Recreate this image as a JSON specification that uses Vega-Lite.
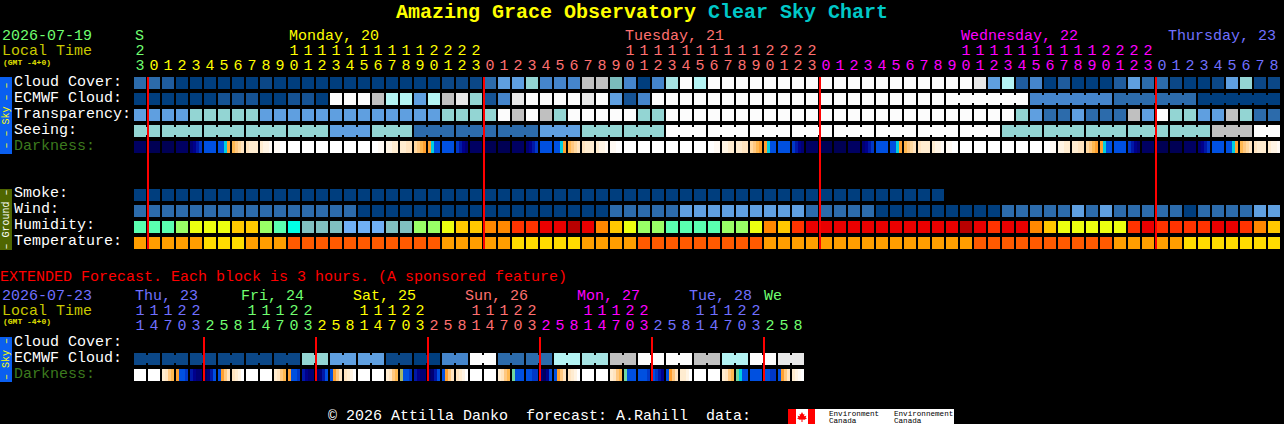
{
  "$schema": "https://vega.github.io/schema/vega-lite/v6.json",
  "width": 1284,
  "height": 424,
  "padding": 0,
  "autosize": {"type": "none"},
  "background": "#000000",
  "config": {"view": {"stroke": null}},
  "datasets": {
    "hours": [
      {"c":0,"h":23,"day":"Sun","cloud":"b2","ecmwf":"d0","transp":"b4","seeing":"t2","smoke":"d0","wind":"b2","humid":"M","temp":"T"},
      {"c":1,"h":0,"day":"Mon","cloud":"b2","ecmwf":"d0","transp":"b4","seeing":"t2","smoke":"d0","wind":"b2","humid":"M","temp":"T"},
      {"c":2,"h":1,"day":"Mon","cloud":"b1","ecmwf":"d0","transp":"b4","seeing":"t2","smoke":"d0","wind":"b2","humid":"M","temp":"T"},
      {"c":3,"h":2,"day":"Mon","cloud":"d0","ecmwf":"d0","transp":"b4","seeing":"t2","smoke":"d0","wind":"b2","humid":"L","temp":"T"},
      {"c":4,"h":3,"day":"Mon","cloud":"d0","ecmwf":"d0","transp":"t2","seeing":"t2","smoke":"d0","wind":"b2","humid":"Y","temp":"T"},
      {"c":5,"h":4,"day":"Mon","cloud":"d0","ecmwf":"d0","transp":"t2","seeing":"t2","smoke":"d0","wind":"b2","humid":"Y","temp":"F"},
      {"c":6,"h":5,"day":"Mon","cloud":"d0","ecmwf":"b0","transp":"t2","seeing":"t2","smoke":"d0","wind":"b2","humid":"Y","temp":"F"},
      {"c":7,"h":6,"day":"Mon","cloud":"d0","ecmwf":"b0","transp":"t2","seeing":"t2","smoke":"d0","wind":"b2","humid":"A","temp":"F"},
      {"c":8,"h":7,"day":"Mon","cloud":"d0","ecmwf":"b0","transp":"t2","seeing":"t2","smoke":"d0","wind":"b2","humid":"A","temp":"T"},
      {"c":9,"h":8,"day":"Mon","cloud":"d1","ecmwf":"d0","transp":"b4","seeing":"t2","smoke":"d0","wind":"b2","humid":"L","temp":"T"},
      {"c":10,"h":9,"day":"Mon","cloud":"d0","ecmwf":"d0","transp":"b4","seeing":"t2","smoke":"d0","wind":"b2","humid":"M","temp":"T"},
      {"c":11,"h":10,"day":"Mon","cloud":"d0","ecmwf":"b0","transp":"b4","seeing":"t2","smoke":"d0","wind":"b2","humid":"Q","temp":"X"},
      {"c":12,"h":11,"day":"Mon","cloud":"d0","ecmwf":"b0","transp":"b4","seeing":"t2","smoke":"d0","wind":"b2","humid":"G","temp":"X"},
      {"c":13,"h":12,"day":"Mon","cloud":"d0","ecmwf":"d0","transp":"b4","seeing":"t2","smoke":"d0","wind":"b2","humid":"G","temp":"X"},
      {"c":14,"h":13,"day":"Mon","cloud":"d0","ecmwf":"w","transp":"b4","seeing":"b4","smoke":"d0","wind":"b2","humid":"G","temp":"X"},
      {"c":15,"h":14,"day":"Mon","cloud":"d0","ecmwf":"w","transp":"b4","seeing":"b4","smoke":"d0","wind":"b2","humid":"S","temp":"X"},
      {"c":16,"h":15,"day":"Mon","cloud":"d0","ecmwf":"w","transp":"b4","seeing":"b4","smoke":"d0","wind":"d0","humid":"S","temp":"X"},
      {"c":17,"h":16,"day":"Mon","cloud":"d0","ecmwf":"g1","transp":"b4","seeing":"t2","smoke":"d0","wind":"d0","humid":"S","temp":"X"},
      {"c":18,"h":17,"day":"Mon","cloud":"d0","ecmwf":"t4","transp":"b4","seeing":"t2","smoke":"d0","wind":"d0","humid":"G","temp":"X"},
      {"c":19,"h":18,"day":"Mon","cloud":"d0","ecmwf":"t4","transp":"b4","seeing":"t2","smoke":"d0","wind":"d0","humid":"G","temp":"X"},
      {"c":20,"h":19,"day":"Mon","cloud":"d0","ecmwf":"b4","transp":"b4","seeing":"b2","smoke":"d0","wind":"d0","humid":"L","temp":"X"},
      {"c":21,"h":20,"day":"Mon","cloud":"d0","ecmwf":"t4","transp":"b4","seeing":"b2","smoke":"d0","wind":"d0","humid":"L","temp":"X"},
      {"c":22,"h":21,"day":"Mon","cloud":"d1","ecmwf":"g1","transp":"t2","seeing":"b2","smoke":"d0","wind":"d0","humid":"Y","temp":"T"},
      {"c":23,"h":22,"day":"Mon","cloud":"d1","ecmwf":"g2","transp":"t2","seeing":"b2","smoke":"d0","wind":"d0","humid":"A","temp":"T"},
      {"c":24,"h":23,"day":"Mon","cloud":"d1","ecmwf":"t2","transp":"t2","seeing":"b2","smoke":"d0","wind":"d0","humid":"A","temp":"T"},
      {"c":25,"h":0,"day":"Tue","cloud":"b2","ecmwf":"b0","transp":"t2","seeing":"b2","smoke":"d0","wind":"d0","humid":"O","temp":"T"},
      {"c":26,"h":1,"day":"Tue","cloud":"b4","ecmwf":"b3","transp":"w","seeing":"b2","smoke":"d0","wind":"d0","humid":"O","temp":"T"},
      {"c":27,"h":2,"day":"Tue","cloud":"b4","ecmwf":"g2","transp":"g1","seeing":"b2","smoke":"d0","wind":"d0","humid":"R","temp":"F"},
      {"c":28,"h":3,"day":"Tue","cloud":"t2","ecmwf":"w","transp":"w","seeing":"b2","smoke":"d0","wind":"d0","humid":"R","temp":"F"},
      {"c":29,"h":4,"day":"Tue","cloud":"b3","ecmwf":"w","transp":"g1","seeing":"b4","smoke":"d0","wind":"d0","humid":"E","temp":"F"},
      {"c":30,"h":5,"day":"Tue","cloud":"b3","ecmwf":"w","transp":"t2","seeing":"b4","smoke":"d0","wind":"d0","humid":"E","temp":"F"},
      {"c":31,"h":6,"day":"Tue","cloud":"b3","ecmwf":"w","transp":"w","seeing":"b4","smoke":"d0","wind":"d0","humid":"D","temp":"F"},
      {"c":32,"h":7,"day":"Tue","cloud":"g1","ecmwf":"g2","transp":"w","seeing":"t2","smoke":"d0","wind":"d0","humid":"E","temp":"T"},
      {"c":33,"h":8,"day":"Tue","cloud":"g1","ecmwf":"w","transp":"w","seeing":"t2","smoke":"d0","wind":"d0","humid":"O","temp":"T"},
      {"c":34,"h":9,"day":"Tue","cloud":"t1","ecmwf":"b4","transp":"w","seeing":"t2","smoke":"d0","wind":"b2","humid":"A","temp":"T"},
      {"c":35,"h":10,"day":"Tue","cloud":"b3","ecmwf":"b0","transp":"w","seeing":"t2","smoke":"d0","wind":"b2","humid":"Y","temp":"T"},
      {"c":36,"h":11,"day":"Tue","cloud":"d0","ecmwf":"b3","transp":"t2","seeing":"t2","smoke":"d0","wind":"b2","humid":"L","temp":"X"},
      {"c":37,"h":12,"day":"Tue","cloud":"b3","ecmwf":"w","transp":"t2","seeing":"t2","smoke":"d0","wind":"b2","humid":"L","temp":"X"},
      {"c":38,"h":13,"day":"Tue","cloud":"t3","ecmwf":"w","transp":"w","seeing":"w","smoke":"d0","wind":"b2","humid":"M","temp":"X"},
      {"c":39,"h":14,"day":"Tue","cloud":"w","ecmwf":"w","transp":"w","seeing":"w","smoke":"d0","wind":"b4","humid":"M","temp":"X"},
      {"c":40,"h":15,"day":"Tue","cloud":"t4","ecmwf":"w","transp":"w","seeing":"w","smoke":"d0","wind":"b4","humid":"M","temp":"X"},
      {"c":41,"h":16,"day":"Tue","cloud":"w","ecmwf":"w","transp":"w","seeing":"w","smoke":"d0","wind":"b4","humid":"M","temp":"X"},
      {"c":42,"h":17,"day":"Tue","cloud":"w","ecmwf":"w","transp":"w","seeing":"w","smoke":"d0","wind":"b4","humid":"L","temp":"X"},
      {"c":43,"h":18,"day":"Tue","cloud":"w","ecmwf":"w","transp":"w","seeing":"w","smoke":"d0","wind":"b4","humid":"L","temp":"X"},
      {"c":44,"h":19,"day":"Tue","cloud":"w","ecmwf":"w","transp":"w","seeing":"w","smoke":"d0","wind":"b4","humid":"Y","temp":"X"},
      {"c":45,"h":20,"day":"Tue","cloud":"w","ecmwf":"w","transp":"w","seeing":"w","smoke":"d0","wind":"b4","humid":"O","temp":"T"},
      {"c":46,"h":21,"day":"Tue","cloud":"w","ecmwf":"w","transp":"w","seeing":"w","smoke":"d0","wind":"b4","humid":"A","temp":"T"},
      {"c":47,"h":22,"day":"Tue","cloud":"w","ecmwf":"w","transp":"w","seeing":"w","smoke":"d0","wind":"b4","humid":"R","temp":"T"},
      {"c":48,"h":23,"day":"Tue","cloud":"w","ecmwf":"w","transp":"w","seeing":"w","smoke":"d0","wind":"b2","humid":"E","temp":"T"},
      {"c":49,"h":0,"day":"Wed","cloud":"w","ecmwf":"w","transp":"w","seeing":"w","smoke":"d0","wind":"b2","humid":"E","temp":"T"},
      {"c":50,"h":1,"day":"Wed","cloud":"w","ecmwf":"w","transp":"w","seeing":"w","smoke":"d0","wind":"b2","humid":"E","temp":"T"},
      {"c":51,"h":2,"day":"Wed","cloud":"w","ecmwf":"w","transp":"w","seeing":"w","smoke":"d0","wind":"b2","humid":"E","temp":"T"},
      {"c":52,"h":3,"day":"Wed","cloud":"w","ecmwf":"w","transp":"w","seeing":"w","smoke":"d0","wind":"b2","humid":"E","temp":"T"},
      {"c":53,"h":4,"day":"Wed","cloud":"w","ecmwf":"w","transp":"w","seeing":"w","smoke":"d0","wind":"d0","humid":"E","temp":"T"},
      {"c":54,"h":5,"day":"Wed","cloud":"w","ecmwf":"w","transp":"w","seeing":"w","smoke":"d0","wind":"d0","humid":"E","temp":"T"},
      {"c":55,"h":6,"day":"Wed","cloud":"w","ecmwf":"w","transp":"w","seeing":"w","smoke":"d0","wind":"d0","humid":"E","temp":"T"},
      {"c":56,"h":7,"day":"Wed","cloud":"w","ecmwf":"w","transp":"w","seeing":"w","smoke":"d0","wind":"d0","humid":"E","temp":"T"},
      {"c":57,"h":8,"day":"Wed","cloud":"w","ecmwf":"w","transp":"w","seeing":"w","smoke":"d0","wind":"d0","humid":"E","temp":"T"},
      {"c":58,"h":9,"day":"Wed","cloud":"w","ecmwf":"w","transp":"w","seeing":"w","wind":"d0","humid":"E","temp":"T"},
      {"c":59,"h":10,"day":"Wed","cloud":"w","ecmwf":"w","transp":"w","seeing":"w","wind":"d0","humid":"D","temp":"T"},
      {"c":60,"h":11,"day":"Wed","cloud":"g2","ecmwf":"w","transp":"w","seeing":"w","wind":"d0","humid":"E","temp":"X"},
      {"c":61,"h":12,"day":"Wed","cloud":"b4","ecmwf":"w","transp":"w","seeing":"w","wind":"d0","humid":"R","temp":"X"},
      {"c":62,"h":13,"day":"Wed","cloud":"t4","ecmwf":"w","transp":"w","seeing":"t2","wind":"b2","humid":"E","temp":"X"},
      {"c":63,"h":14,"day":"Wed","cloud":"b1","ecmwf":"w","transp":"t2","seeing":"t2","wind":"b2","humid":"E","temp":"X"},
      {"c":64,"h":15,"day":"Wed","cloud":"b3","ecmwf":"b3","transp":"b4","seeing":"t2","wind":"b2","humid":"O","temp":"X"},
      {"c":65,"h":16,"day":"Wed","cloud":"d0","ecmwf":"b3","transp":"b2","seeing":"t2","wind":"b2","humid":"A","temp":"X"},
      {"c":66,"h":17,"day":"Wed","cloud":"b1","ecmwf":"b3","transp":"b2","seeing":"t2","wind":"b2","humid":"Y","temp":"X"},
      {"c":67,"h":18,"day":"Wed","cloud":"d0","ecmwf":"b3","transp":"b4","seeing":"t2","wind":"b4","humid":"Y","temp":"X"},
      {"c":68,"h":19,"day":"Wed","cloud":"d0","ecmwf":"b3","transp":"b2","seeing":"t2","wind":"b2","humid":"Y","temp":"X"},
      {"c":69,"h":20,"day":"Wed","cloud":"d0","ecmwf":"b3","transp":"b2","seeing":"t2","wind":"b4","humid":"Y","temp":"X"},
      {"c":70,"h":21,"day":"Wed","cloud":"b1","ecmwf":"b2","transp":"b2","seeing":"t2","wind":"b2","humid":"Y","temp":"T"},
      {"c":71,"h":22,"day":"Wed","cloud":"b4","ecmwf":"b2","transp":"g1","seeing":"t2","wind":"b2","humid":"R","temp":"T"},
      {"c":72,"h":23,"day":"Wed","cloud":"b2","ecmwf":"b2","transp":"b4","seeing":"t2","wind":"b2","humid":"E","temp":"T"},
      {"c":73,"h":0,"day":"Thu","cloud":"b2","ecmwf":"b2","transp":"w","seeing":"t2","wind":"b2","humid":"R","temp":"T"},
      {"c":74,"h":1,"day":"Thu","cloud":"d1","ecmwf":"b2","transp":"t2","seeing":"t2","wind":"b2","humid":"R","temp":"T"},
      {"c":75,"h":2,"day":"Thu","cloud":"d0","ecmwf":"b2","transp":"t2","seeing":"t2","wind":"d0","humid":"R","temp":"F"},
      {"c":76,"h":3,"day":"Thu","cloud":"d0","ecmwf":"d0","transp":"b4","seeing":"t2","wind":"b2","humid":"R","temp":"F"},
      {"c":77,"h":4,"day":"Thu","cloud":"d1","ecmwf":"d0","transp":"b4","seeing":"g1","wind":"b2","humid":"E","temp":"F"},
      {"c":78,"h":5,"day":"Thu","cloud":"b4","ecmwf":"d0","transp":"g1","seeing":"g1","wind":"b2","humid":"E","temp":"F"},
      {"c":79,"h":6,"day":"Thu","cloud":"t2","ecmwf":"d0","transp":"t2","seeing":"g1","wind":"b2","humid":"R","temp":"F"},
      {"c":80,"h":7,"day":"Thu","cloud":"d1","ecmwf":"d0","transp":"b2","seeing":"w","wind":"b4","humid":"O","temp":"F"},
      {"c":81,"h":8,"day":"Thu","cloud":"d1","ecmwf":"d0","transp":"b2","seeing":"w","wind":"b4","humid":"A","temp":"F"}
    ],
    "extended": [
      {"c":0,"h":11,"day":"Thu","ecmwf":"d1"},{"c":1,"h":14,"day":"Thu","ecmwf":"d1"},{"c":2,"h":17,"day":"Thu","ecmwf":"d1"},{"c":3,"h":20,"day":"Thu","ecmwf":"d1"},
      {"c":4,"h":23,"day":"Thu","ecmwf":"d1"},{"c":5,"h":2,"day":"Fri","ecmwf":"d1"},{"c":6,"h":5,"day":"Fri","ecmwf":"d1"},{"c":7,"h":8,"day":"Fri","ecmwf":"d1"},
      {"c":8,"h":11,"day":"Fri","ecmwf":"d1"},{"c":9,"h":14,"day":"Fri","ecmwf":"d1"},{"c":10,"h":17,"day":"Fri","ecmwf":"d1"},{"c":11,"h":20,"day":"Fri","ecmwf":"d1"},
      {"c":12,"h":23,"day":"Fri","ecmwf":"t2"},{"c":13,"h":2,"day":"Sat","ecmwf":"t2"},{"c":14,"h":5,"day":"Sat","ecmwf":"b4"},{"c":15,"h":8,"day":"Sat","ecmwf":"b4"},
      {"c":16,"h":11,"day":"Sat","ecmwf":"b4"},{"c":17,"h":14,"day":"Sat","ecmwf":"b4"},{"c":18,"h":17,"day":"Sat","ecmwf":"d1"},{"c":19,"h":20,"day":"Sat","ecmwf":"d1"},
      {"c":20,"h":23,"day":"Sat","ecmwf":"d0"},{"c":21,"h":2,"day":"Sun","ecmwf":"d0"},{"c":22,"h":5,"day":"Sun","ecmwf":"b3"},{"c":23,"h":8,"day":"Sun","ecmwf":"b3"},
      {"c":24,"h":11,"day":"Sun","ecmwf":"w"},{"c":25,"h":14,"day":"Sun","ecmwf":"w"},{"c":26,"h":17,"day":"Sun","ecmwf":"b2"},{"c":27,"h":20,"day":"Sun","ecmwf":"b2"},
      {"c":28,"h":23,"day":"Sun","ecmwf":"b2"},{"c":29,"h":2,"day":"Mon","ecmwf":"b2"},{"c":30,"h":5,"day":"Mon","ecmwf":"t4"},{"c":31,"h":8,"day":"Mon","ecmwf":"t4"},
      {"c":32,"h":11,"day":"Mon","ecmwf":"t3"},{"c":33,"h":14,"day":"Mon","ecmwf":"t3"},{"c":34,"h":17,"day":"Mon","ecmwf":"g1"},{"c":35,"h":20,"day":"Mon","ecmwf":"g1"},
      {"c":36,"h":23,"day":"Mon","ecmwf":"w"},{"c":37,"h":2,"day":"Tue","ecmwf":"w"},{"c":38,"h":5,"day":"Tue","ecmwf":"w"},{"c":39,"h":8,"day":"Tue","ecmwf":"w"},
      {"c":40,"h":11,"day":"Tue","ecmwf":"g1"},{"c":41,"h":14,"day":"Tue","ecmwf":"g1"},{"c":42,"h":17,"day":"Tue","ecmwf":"t4"},{"c":43,"h":20,"day":"Tue","ecmwf":"t4"},
      {"c":44,"h":23,"day":"Tue","ecmwf":"w"},{"c":45,"h":2,"day":"Wed","ecmwf":"w"},{"c":46,"h":5,"day":"Wed","ecmwf":"g2"},{"c":47,"h":8,"day":"Wed","ecmwf":"g2"}
    ],
    "darkness": [
      {"c":0,"r":4,"a":"N2","b":"N2","d":"N2","e":"N2"},{"c":1,"r":4,"a":"N1","b":"N1","d":"N1","e":"N1"},{"c":2,"r":4,"a":"N1","b":"N1","d":"N1","e":"N1"},{"c":3,"r":4,"a":"N2","b":"N2","d":"N2","e":"N2"},
      {"c":4,"r":4,"a":"N3","b":"N4","d":"N5","e":"N6"},{"c":5,"r":4,"a":"B","b":"B","d":"B","e":"B"},{"c":6,"r":4,"a":"B","b":"B","d":"C","e":"S0"},{"c":7,"r":4,"a":"S1","b":"S2","d":"S3","e":"S4"},
      {"c":8,"r":4,"a":"S4","b":"S5","d":"S5","e":"S5"},{"c":9,"r":4,"a":"S5","b":"S6","d":"S6","e":"S7"},{"c":10,"r":4,"a":"S7","b":"S7","d":"W","e":"W"},{"c":11,"r":4,"a":"W","b":"W","d":"W","e":"W"},
      {"c":12,"r":4,"a":"W","b":"W","d":"W","e":"W"},{"c":13,"r":4,"a":"W","b":"W","d":"W","e":"W"},{"c":14,"r":4,"a":"W","b":"W","d":"W","e":"W"},{"c":15,"r":4,"a":"W","b":"W","d":"W","e":"W"},
      {"c":16,"r":4,"a":"W","b":"W","d":"W","e":"W"},{"c":17,"r":4,"a":"W","b":"W","d":"S7","e":"S7"},{"c":18,"r":4,"a":"S6","b":"S6","d":"S5","e":"S5"},{"c":19,"r":4,"a":"S5","b":"S5","d":"S4","e":"S4"},
      {"c":20,"r":4,"a":"S3","b":"S2","d":"S1","e":"S0"},{"c":21,"r":4,"a":"S0","b":"C","d":"B","e":"B"},{"c":22,"r":4,"a":"B","b":"B","d":"B","e":"B"},{"c":23,"r":4,"a":"N6","b":"N5","d":"N4","e":"N3"},
      {"c":24,"r":4,"a":"N2","b":"N2","d":"N2","e":"N2"},{"c":25,"r":4,"a":"N1","b":"N1","d":"N1","e":"N1"},{"c":26,"r":4,"a":"N1","b":"N1","d":"N1","e":"N1"},{"c":27,"r":4,"a":"N2","b":"N2","d":"N2","e":"N2"},
      {"c":28,"r":4,"a":"N3","b":"N4","d":"N5","e":"N6"},{"c":29,"r":4,"a":"B","b":"B","d":"B","e":"B"},{"c":30,"r":4,"a":"B","b":"B","d":"C","e":"S0"},{"c":31,"r":4,"a":"S1","b":"S2","d":"S3","e":"S4"},
      {"c":32,"r":4,"a":"S4","b":"S5","d":"S5","e":"S5"},{"c":33,"r":4,"a":"S5","b":"S6","d":"S6","e":"S7"},{"c":34,"r":4,"a":"S7","b":"S7","d":"W","e":"W"},{"c":35,"r":4,"a":"W","b":"W","d":"W","e":"W"},
      {"c":36,"r":4,"a":"W","b":"W","d":"W","e":"W"},{"c":37,"r":4,"a":"W","b":"W","d":"W","e":"W"},{"c":38,"r":4,"a":"W","b":"W","d":"W","e":"W"},{"c":39,"r":4,"a":"W","b":"W","d":"W","e":"W"},
      {"c":40,"r":4,"a":"W","b":"W","d":"W","e":"W"},{"c":41,"r":4,"a":"W","b":"W","d":"S7","e":"S7"},{"c":42,"r":4,"a":"S6","b":"S6","d":"S5","e":"S5"},{"c":43,"r":4,"a":"S5","b":"S5","d":"S4","e":"S4"},
      {"c":44,"r":4,"a":"S3","b":"S2","d":"S1","e":"S0"},{"c":45,"r":4,"a":"S0","b":"C","d":"B","e":"B"},{"c":46,"r":4,"a":"B","b":"B","d":"B","e":"B"},{"c":47,"r":4,"a":"N6","b":"N5","d":"N4","e":"N3"},
      {"c":48,"r":4,"a":"N2","b":"N2","d":"N2","e":"N2"},{"c":49,"r":4,"a":"N1","b":"N1","d":"N1","e":"N1"},{"c":50,"r":4,"a":"N1","b":"N1","d":"N1","e":"N1"},{"c":51,"r":4,"a":"N2","b":"N2","d":"N2","e":"N2"},
      {"c":52,"r":4,"a":"N3","b":"N4","d":"N5","e":"N6"},{"c":53,"r":4,"a":"B","b":"B","d":"B","e":"B"},{"c":54,"r":4,"a":"B","b":"B","d":"C","e":"S0"},{"c":55,"r":4,"a":"S1","b":"S2","d":"S3","e":"S4"},
      {"c":56,"r":4,"a":"S4","b":"S5","d":"S5","e":"S5"},{"c":57,"r":4,"a":"S5","b":"S6","d":"S6","e":"S7"},{"c":58,"r":4,"a":"S7","b":"S7","d":"W","e":"W"},{"c":59,"r":4,"a":"W","b":"W","d":"W","e":"W"},
      {"c":60,"r":4,"a":"W","b":"W","d":"W","e":"W"},{"c":61,"r":4,"a":"W","b":"W","d":"W","e":"W"},{"c":62,"r":4,"a":"W","b":"W","d":"W","e":"W"},{"c":63,"r":4,"a":"W","b":"W","d":"W","e":"W"},
      {"c":64,"r":4,"a":"W","b":"W","d":"W","e":"W"},{"c":65,"r":4,"a":"W","b":"W","d":"S7","e":"S7"},{"c":66,"r":4,"a":"S6","b":"S6","d":"S5","e":"S5"},{"c":67,"r":4,"a":"S5","b":"S5","d":"S4","e":"S4"},
      {"c":68,"r":4,"a":"S3","b":"S2","d":"S1","e":"S0"},{"c":69,"r":4,"a":"S0","b":"C","d":"B","e":"B"},{"c":70,"r":4,"a":"B","b":"B","d":"B","e":"B"},{"c":71,"r":4,"a":"N6","b":"N5","d":"N4","e":"N3"},
      {"c":72,"r":4,"a":"N2","b":"N2","d":"N2","e":"N2"},{"c":73,"r":4,"a":"N1","b":"N1","d":"N1","e":"N1"},{"c":74,"r":4,"a":"N1","b":"N1","d":"N1","e":"N1"},{"c":75,"r":4,"a":"N2","b":"N2","d":"N2","e":"N2"},
      {"c":76,"r":4,"a":"N3","b":"N4","d":"N5","e":"N6"},{"c":77,"r":4,"a":"B","b":"B","d":"B","e":"B"},{"c":78,"r":4,"a":"B","b":"B","d":"C","e":"S0"},{"c":79,"r":4,"a":"S1","b":"S2","d":"S3","e":"S4"},
      {"c":80,"r":4,"a":"S4","b":"S5","d":"S5","e":"S5"},{"c":81,"r":4,"a":"S5","b":"S6","d":"S6","e":"S7"},
      {"c":0,"r":18.25,"a":"W","b":"W","d":"W","e":"W"},{"c":1,"r":18.25,"a":"W","b":"W","d":"W","e":"W"},{"c":2,"r":18.25,"a":"S5","b":"S4","d":"S2","e":"S1"},{"c":3,"r":18.25,"a":"S0","b":"B","d":"B","e":"N6"},
      {"c":4,"r":18.25,"a":"N5","b":"N4","d":"N3","e":"N3"},{"c":5,"r":18.25,"a":"N2","b":"N3","d":"N5","e":"B"},{"c":6,"r":18.25,"a":"B","b":"S0","d":"S2","e":"S4"},{"c":7,"r":18.25,"a":"S4","b":"S5","d":"S6","e":"W"},
      {"c":8,"r":18.25,"a":"W","b":"W","d":"W","e":"W"},{"c":9,"r":18.25,"a":"W","b":"W","d":"W","e":"W"},{"c":10,"r":18.25,"a":"S5","b":"S4","d":"S2","e":"S1"},{"c":11,"r":18.25,"a":"S0","b":"B","d":"B","e":"N6"},
      {"c":12,"r":18.25,"a":"N5","b":"N4","d":"N3","e":"N3"},{"c":13,"r":18.25,"a":"N2","b":"N3","d":"N5","e":"B"},{"c":14,"r":18.25,"a":"B","b":"S0","d":"S2","e":"S4"},{"c":15,"r":18.25,"a":"S4","b":"S5","d":"S6","e":"W"},
      {"c":16,"r":18.25,"a":"W","b":"W","d":"W","e":"W"},{"c":17,"r":18.25,"a":"W","b":"W","d":"W","e":"W"},{"c":18,"r":18.25,"a":"S5","b":"S4","d":"S2","e":"S1"},{"c":19,"r":18.25,"a":"V","b":"B","d":"B","e":"N6"},
      {"c":20,"r":18.25,"a":"N5","b":"N4","d":"N3","e":"N3"},{"c":21,"r":18.25,"a":"N2","b":"N3","d":"N5","e":"B"},{"c":22,"r":18.25,"a":"B","b":"S0","d":"S2","e":"S4"},{"c":23,"r":18.25,"a":"S4","b":"S5","d":"S6","e":"W"},
      {"c":24,"r":18.25,"a":"W","b":"W","d":"W","e":"W"},{"c":25,"r":18.25,"a":"W","b":"W","d":"W","e":"W"},{"c":26,"r":18.25,"a":"S5","b":"S4","d":"S2","e":"S1"},{"c":27,"r":18.25,"a":"U","b":"B","d":"B","e":"B"},
      {"c":28,"r":18.25,"a":"B","b":"B","d":"N6","e":"N6"},{"c":29,"r":18.25,"a":"N3","b":"N2","d":"N4","e":"B"},{"c":30,"r":18.25,"a":"B","b":"S0","d":"S2","e":"S4"},{"c":31,"r":18.25,"a":"S4","b":"S5","d":"S6","e":"W"},
      {"c":32,"r":18.25,"a":"W","b":"W","d":"W","e":"W"},{"c":33,"r":18.25,"a":"W","b":"W","d":"W","e":"W"},{"c":34,"r":18.25,"a":"S5","b":"S4","d":"S2","e":"S1"},{"c":35,"r":18.25,"a":"U","b":"B","d":"B","e":"B"},
      {"c":36,"r":18.25,"a":"B","b":"B","d":"B","e":"N6"},{"c":37,"r":18.25,"a":"B","b":"N6","d":"N5","e":"N4"},{"c":38,"r":18.25,"a":"B","b":"S0","d":"S2","e":"S4"},{"c":39,"r":18.25,"a":"S5","b":"S5","d":"S6","e":"W"},
      {"c":40,"r":18.25,"a":"W","b":"W","d":"W","e":"W"},{"c":41,"r":18.25,"a":"W","b":"W","d":"W","e":"W"},{"c":42,"r":18.25,"a":"S5","b":"S4","d":"S2","e":"S1"},{"c":43,"r":18.25,"a":"U","b":"C","d":"B","e":"B"},
      {"c":44,"r":18.25,"a":"B","b":"B","d":"B","e":"B"},{"c":45,"r":18.25,"a":"B","b":"B","d":"N6","e":"N6"},{"c":46,"r":18.25,"a":"B","b":"S0","d":"S2","e":"S4"},{"c":47,"r":18.25,"a":"S5","b":"S6","d":"S7","e":"W"}
    ],
    "necks": [
      {"c":0,"e":1,"r":3,"k":"t2"},{"c":2,"e":4,"r":3,"k":"t2"},{"c":5,"e":7,"r":3,"k":"t2"},{"c":8,"e":10,"r":3,"k":"t2"},{"c":11,"e":13,"r":3,"k":"t2"},
      {"c":14,"e":16,"r":3,"k":"b4"},{"c":17,"e":19,"r":3,"k":"t2"},{"c":20,"e":22,"r":3,"k":"b2"},{"c":23,"e":25,"r":3,"k":"b2"},{"c":26,"e":28,"r":3,"k":"b2"},
      {"c":29,"e":31,"r":3,"k":"b4"},{"c":32,"e":34,"r":3,"k":"t2"},{"c":35,"e":37,"r":3,"k":"t2"},{"c":38,"e":40,"r":3,"k":"w"},{"c":41,"e":43,"r":3,"k":"w"},
      {"c":44,"e":46,"r":3,"k":"w"},{"c":47,"e":49,"r":3,"k":"w"},{"c":50,"e":52,"r":3,"k":"w"},{"c":53,"e":55,"r":3,"k":"w"},{"c":56,"e":58,"r":3,"k":"w"},
      {"c":59,"e":61,"r":3,"k":"w"},{"c":62,"e":64,"r":3,"k":"t2"},{"c":65,"e":67,"r":3,"k":"t2"},{"c":68,"e":70,"r":3,"k":"t2"},{"c":71,"e":73,"r":3,"k":"t2"},
      {"c":74,"e":76,"r":3,"k":"t2"},{"c":77,"e":79,"r":3,"k":"g1"},{"c":80,"e":81,"r":3,"k":"w"},
      {"c":58,"e":63,"r":1,"k":"w"},{"c":64,"e":69,"r":1,"k":"b3"},{"c":70,"e":75,"r":1,"k":"b2"},{"c":76,"e":81,"r":1,"k":"d0"},
      {"c":0,"e":1,"r":17.25,"k":"d1"},{"c":2,"e":3,"r":17.25,"k":"d1"},{"c":4,"e":5,"r":17.25,"k":"d1"},{"c":6,"e":7,"r":17.25,"k":"d1"},{"c":8,"e":9,"r":17.25,"k":"d1"},{"c":10,"e":11,"r":17.25,"k":"d1"},
      {"c":12,"e":13,"r":17.25,"k":"t2"},{"c":14,"e":15,"r":17.25,"k":"b4"},{"c":16,"e":17,"r":17.25,"k":"b4"},{"c":18,"e":19,"r":17.25,"k":"d1"},{"c":20,"e":21,"r":17.25,"k":"d0"},{"c":22,"e":23,"r":17.25,"k":"b3"},
      {"c":24,"e":25,"r":17.25,"k":"w"},{"c":26,"e":27,"r":17.25,"k":"b2"},{"c":28,"e":29,"r":17.25,"k":"b2"},{"c":30,"e":31,"r":17.25,"k":"t4"},{"c":32,"e":33,"r":17.25,"k":"t3"},{"c":34,"e":35,"r":17.25,"k":"g1"},
      {"c":36,"e":37,"r":17.25,"k":"w"},{"c":38,"e":39,"r":17.25,"k":"w"},{"c":40,"e":41,"r":17.25,"k":"g1"},{"c":42,"e":43,"r":17.25,"k":"t4"},{"c":44,"e":45,"r":17.25,"k":"w"},{"c":46,"e":47,"r":17.25,"k":"g2"}
    ],
    "midnights": [
      {"c":1,"r":0,"r2":10.75},{"c":25,"r":0,"r2":10.75},{"c":49,"r":0,"r2":10.75},{"c":73,"r":0,"r2":10.75},
      {"c":5,"r":16.25,"r2":19},{"c":13,"r":16.25,"r2":19},{"c":21,"r":16.25,"r2":19},{"c":29,"r":16.25,"r2":19},{"c":37,"r":16.25,"r2":19},{"c":45,"r":16.25,"r2":19}
    ],
    "panels": [
      {"c":-9.5714,"c2":-8.7143,"r":0,"r2":4.8125,"k":"skybar"},
      {"c":-9.5714,"c2":-8.7143,"r":7,"r2":10.8125,"k":"groundbar"},
      {"c":-9.5714,"c2":-8.7143,"r":16.25,"r2":19.0625,"k":"skybar"},
      {"c":46.7143,"c2":58.5714,"r":20.75,"r2":21.6875,"k":"logoWhite"},
      {"c":46.7143,"c2":47.2857,"r":20.75,"r2":21.6875,"k":"logoRed"},
      {"c":48.1429,"c2":48.6429,"r":20.75,"r2":21.6875,"k":"logoRed"}
    ],
    "panelText": [
      {"t":"– – Sky – –","c":-9.1429,"r":2.4063,"k":"skyText"},
      {"t":"– Ground –","c":-9.1429,"r":8.9063,"k":"label"},
      {"t":"– Sky –","c":-9.1429,"r":17.625,"k":"skyText"}
    ],
    "labels": [
      {"t":"2026-07-19","c":-9.4286,"r":-2.3125,"k":"Sun"},
      {"t":"Local Time","c":-9.4286,"r":-1.375,"k":"local"},
      {"t":"S","c":0.0714,"r":-2.3125,"k":"Sun"},
      {"t":"Monday, 20","c":11.0714,"r":-2.3125,"k":"Mon"},
      {"t":"Tuesday, 21","c":35.0714,"r":-2.3125,"k":"Tue"},
      {"t":"Wednesday, 22","c":59.0714,"r":-2.3125,"k":"Wed"},
      {"t":"Thursday, 23","c":73.8571,"r":-2.3125,"k":"Thu"},
      {"t":"Cloud Cover:","c":-8.5714,"r":0.5625,"k":"label"},
      {"t":"ECMWF Cloud:","c":-8.5714,"r":1.5625,"k":"label"},
      {"t":"Transparency:","c":-8.5714,"r":2.5625,"k":"label"},
      {"t":"Seeing:","c":-8.5714,"r":3.5625,"k":"label"},
      {"t":"Darkness:","c":-8.5714,"r":4.5625,"k":"darkLabel"},
      {"t":"Smoke:","c":-8.5714,"r":7.5,"k":"label"},
      {"t":"Wind:","c":-8.5714,"r":8.5,"k":"label"},
      {"t":"Humidity:","c":-8.5714,"r":9.5,"k":"label"},
      {"t":"Temperature:","c":-8.5714,"r":10.5,"k":"label"},
      {"t":"EXTENDED Forecast. Each block is 3 hours. (A sponsored feature)","c":-9.5714,"r":12.75,"k":"warn"},
      {"t":"2026-07-23","c":-9.4286,"r":13.9375,"k":"Thu2"},
      {"t":"Local Time","c":-9.4286,"r":14.875,"k":"local"},
      {"t":"Thu, 23","c":0.0714,"r":13.9375,"k":"Thu2"},
      {"t":"Fri, 24","c":7.6429,"r":13.9375,"k":"Fri2"},
      {"t":"Sat, 25","c":15.6429,"r":13.9375,"k":"Sat2"},
      {"t":"Sun, 26","c":23.6429,"r":13.9375,"k":"Sun2"},
      {"t":"Mon, 27","c":31.6429,"r":13.9375,"k":"Mon2"},
      {"t":"Tue, 28","c":39.6429,"r":13.9375,"k":"Tue2"},
      {"t":"We","c":45,"r":13.9375,"k":"Wed2"},
      {"t":"Cloud Cover:","c":-8.5714,"r":16.8125,"k":"label"},
      {"t":"ECMWF Cloud:","c":-8.5714,"r":17.8125,"k":"label"},
      {"t":"Darkness:","c":-8.5714,"r":18.8125,"k":"darkLabel"},
      {"t":"© 2026 Attilla Danko","c":13.8571,"r":21.4375,"k":"label"},
      {"t":"forecast: A.Rahill","c":28,"r":21.4375,"k":"label"},
      {"t":"data:","c":40.8571,"r":21.4375,"k":"label"}
    ],
    "smallLabels": [
      {"t":"(GMT -4+0)","c":-9.3571,"r":-0.75,"k":"local2"},
      {"t":"(GMT -4+0)","c":-9.3571,"r":15.4375,"k":"local2"}
    ],
    "titles": [
      {"t":"Amazing Grace Observatory","c":18.7143,"r":-3.6875,"k":"Mon"},
      {"t":"Clear Sky Chart","c":41,"r":-3.6875,"k":"titleAccent"}
    ],
    "logoText": [
      {"t":"Environment","c":49.6429,"r":21.1875,"k":"logoInk"},
      {"t":"Canada","c":49.6429,"r":21.625,"k":"logoInk"},
      {"t":"Environnement","c":54.2857,"r":21.1875,"k":"logoInk"},
      {"t":"Canada","c":54.2857,"r":21.625,"k":"logoInk"}
    ],
    "leaf": [{"c":47.7143,"r":21.25,"k":"logoRed"}]
  },
  "encoding": {
    "x": {"field": "c", "type": "quantitative", "axis": null, "scale": {"domain": [-9.571428571428571, 82.14285714285714], "nice": false, "zero": false}},
    "y": {"field": "r", "type": "quantitative", "axis": null, "scale": {"domain": [21.6875, -4.8125], "nice": false, "zero": false}},
    "color": {
      "field": "k",
      "type": "nominal",
      "legend": null,
      "scale": {
        "domain": ["d0","d1","b0","b1","b2","b3","b4","t1","t2","t3","t4","g1","g2","w","Q","M","L","Y","A","O","R","E","D","G","S","T","F","X","N1","N2","N3","N4","N5","N6","B","C","U","V","S0","S1","S2","S3","S4","S5","S6","S7","W","Sun","Mon","Tue","Wed","Thu","Thu2","Fri2","Sat2","Sun2","Mon2","Tue2","Wed2","local","local2","label","darkLabel","warn","titleAccent","skybar","groundbar","skyText","logoWhite","logoRed","logoInk"],
        "range": ["#003e7e","#0b4787","#155293","#1f5c9e","#2c6bab","#4585cb","#5f9fe0","#7bbcbc","#93d5d3","#a6e4e4","#b4f4f4","#c0c0c0","#e8e8e8","#fcfcfc","#00ffe6","#5affb0","#99ff66","#ecff10","#ffc800","#ff8800","#ff3300","#ea0000","#b80000","#80c0c0","#70b0f5","#ff9e00","#ffdc00","#ff5a00","#000054","#000062","#000074","#00008c","#0018a8","#0038c8","#0050e0","#00d0e0","#70d8a0","#a8b868","#ffa030","#ffb850","#ffc880","#ffd8a0","#ffe4c0","#ffecd0","#fff4e4","#fffaf4","#ffffff","#70ff70","#ffff00","#ff7070","#ff00ff","#7070ff","#7070ff","#70ff70","#ffff00","#ff7070","#ff00ff","#7070ff","#70ff70","#c8c800","#e0e000","#ffffff","#3c7a1e","#ff0000","#00c8c8","#0a5ff0","#4f6600","#ffff00","#ffffff","#ff0000","#000000"]
      }
    }
  },
  "layer": [
    {
      "data": {"name": "panels"},
      "mark": {"type": "rect"},
      "encoding": {"x2": {"field": "c2"}, "y2": {"field": "r2"}}
    },
    {
      "data": {"name": "necks"},
      "transform": [
        {"calculate": "datum.e + 12 / 14", "as": "c2"},
        {"calculate": "datum.r + 10 / 16", "as": "r2"},
        {"calculate": "datum.r + 2 / 16", "as": "r"}
      ],
      "mark": {"type": "rect"},
      "encoding": {"x2": {"field": "c2"}, "y2": {"field": "r2"}}
    },
    {
      "data": {"name": "hours"},
      "transform": [
        {"fold": ["cloud", "ecmwf", "transp", "seeing", "smoke", "wind", "humid", "temp"], "as": ["row", "k"]},
        {"filter": "datum.k"},
        {"calculate": "indexof(['cloud','ecmwf','transp','seeing','-','-','-','smoke','wind','humid','temp'], datum.row)", "as": "r"},
        {"calculate": "datum.c + 12 / 14", "as": "c2"},
        {"calculate": "datum.r + 12 / 16", "as": "r2"}
      ],
      "mark": {"type": "rect"},
      "encoding": {"x2": {"field": "c2"}, "y2": {"field": "r2"}}
    },
    {
      "data": {"name": "extended"},
      "transform": [
        {"calculate": "datum.ecmwf", "as": "k"},
        {"calculate": "17.25", "as": "r"},
        {"calculate": "datum.c + 12 / 14", "as": "c2"},
        {"calculate": "datum.r + 12 / 16", "as": "r2"}
      ],
      "mark": {"type": "rect"},
      "encoding": {"x2": {"field": "c2"}, "y2": {"field": "r2"}}
    },
    {
      "data": {"name": "darkness"},
      "transform": [
        {"fold": ["a", "b", "d", "e"], "as": ["slot", "k"]},
        {"calculate": "indexof(['a','b','d','e'], datum.slot)", "as": "s"},
        {"calculate": "datum.c + (datum.s + 1) * 3 / 14", "as": "c2"},
        {"calculate": "datum.c + datum.s * 3 / 14", "as": "c"},
        {"calculate": "datum.r + 12 / 16", "as": "r2"}
      ],
      "mark": {"type": "rect"},
      "encoding": {"x2": {"field": "c2"}, "y2": {"field": "r2"}}
    },
    {
      "data": {"name": "midnights"},
      "mark": {"type": "rule", "strokeWidth": 2},
      "encoding": {"y2": {"field": "r2"}, "color": {"value": "#ff0000"}}
    },
    {
      "data": {"name": "hours"},
      "transform": [
        {"calculate": "datum.day", "as": "k"},
        {"calculate": "-0.4375", "as": "r"},
        {"calculate": "'' + datum.h % 10", "as": "t"}
      ],
      "mark": {"type": "text", "font": "Liberation Mono", "fontSize": 15, "align": "center", "baseline": "alphabetic", "dx": 6},
      "encoding": {"text": {"field": "t"}}
    },
    {
      "data": {"name": "hours"},
      "transform": [
        {"filter": "datum.h >= 10"},
        {"calculate": "datum.day", "as": "k"},
        {"calculate": "-1.375", "as": "r"},
        {"calculate": "'' + floor(datum.h / 10)", "as": "t"}
      ],
      "mark": {"type": "text", "font": "Liberation Mono", "fontSize": 15, "align": "center", "baseline": "alphabetic", "dx": 6},
      "encoding": {"text": {"field": "t"}}
    },
    {
      "data": {"name": "extended"},
      "transform": [
        {"calculate": "datum.day + '2'", "as": "k"},
        {"calculate": "15.8125", "as": "r"},
        {"calculate": "'' + datum.h % 10", "as": "t"}
      ],
      "mark": {"type": "text", "font": "Liberation Mono", "fontSize": 15, "align": "center", "baseline": "alphabetic", "dx": 6},
      "encoding": {"text": {"field": "t"}}
    },
    {
      "data": {"name": "extended"},
      "transform": [
        {"filter": "datum.h >= 10"},
        {"calculate": "datum.day + '2'", "as": "k"},
        {"calculate": "14.875", "as": "r"},
        {"calculate": "'' + floor(datum.h / 10)", "as": "t"}
      ],
      "mark": {"type": "text", "font": "Liberation Mono", "fontSize": 15, "align": "center", "baseline": "alphabetic", "dx": 6},
      "encoding": {"text": {"field": "t"}}
    },
    {
      "data": {"name": "labels"},
      "mark": {"type": "text", "font": "Liberation Mono", "fontSize": 15, "align": "left", "baseline": "alphabetic"},
      "encoding": {"text": {"field": "t"}}
    },
    {
      "data": {"name": "smallLabels"},
      "mark": {"type": "text", "font": "Liberation Mono", "fontSize": 8, "fontWeight": "bold", "align": "left", "baseline": "alphabetic"},
      "encoding": {"text": {"field": "t"}}
    },
    {
      "data": {"name": "titles"},
      "mark": {"type": "text", "font": "Liberation Mono", "fontSize": 20, "fontWeight": "bold", "align": "left", "baseline": "alphabetic"},
      "encoding": {"text": {"field": "t"}}
    },
    {
      "data": {"name": "panelText"},
      "mark": {"type": "text", "font": "Liberation Mono", "fontSize": 10, "angle": 270, "align": "center", "baseline": "middle"},
      "encoding": {"text": {"field": "t"}}
    },
    {
      "data": {"name": "logoText"},
      "mark": {"type": "text", "font": "Liberation Mono", "fontSize": 7.6, "align": "left", "baseline": "alphabetic"},
      "encoding": {"text": {"field": "t"}}
    },
    {
      "data": {"name": "leaf"},
      "mark": {"type": "point", "filled": true, "opacity": 1, "size": 100, "shape": "M0,-1 L0.25,-0.5 L0.5,-0.65 L0.4,-0.15 L0.9,-0.25 L0.7,0.1 L1,0.25 L0.5,0.55 L0.1,0.5 L0.1,1 L-0.1,1 L-0.1,0.5 L-0.5,0.55 L-1,0.25 L-0.7,0.1 L-0.9,-0.25 L-0.4,-0.15 L-0.5,-0.65 L-0.25,-0.5 Z"}
    }
  ]
}
